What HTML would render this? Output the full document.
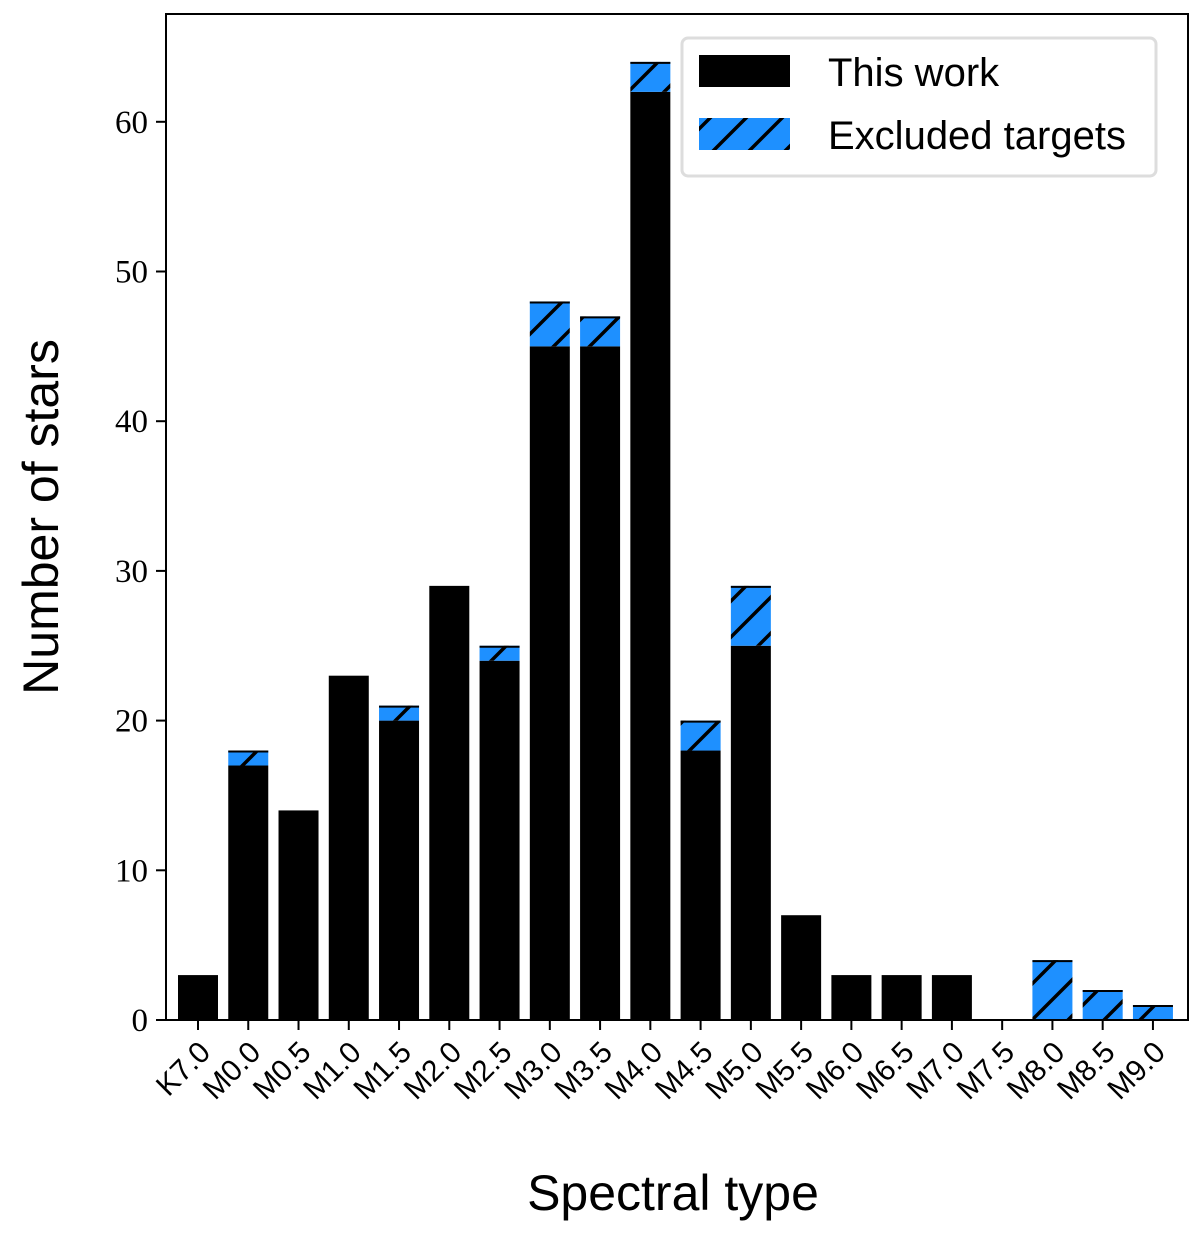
<!DOCTYPE html>
<html><head><meta charset="utf-8"><style>body{margin:0;background:#fff}svg{display:block}</style></head>
<body>
<svg id="chart" width="1200" height="1243" xmlns="http://www.w3.org/2000/svg">
<defs>
<pattern id="hatch" patternUnits="userSpaceOnUse" width="36" height="36">
<rect width="36" height="36" fill="#1e90ff"/>
<path d="M-9,9 L9,-9 M0,36 L36,0 M27,45 L45,27" stroke="#000" stroke-width="3.5"/>
</pattern>
</defs>
<g id="plot"></g>
</svg>
<script>
const categories=["K7.0","M0.0","M0.5","M1.0","M1.5","M2.0","M2.5","M3.0","M3.5","M4.0","M4.5","M5.0","M5.5","M6.0","M6.5","M7.0","M7.5","M8.0","M8.5","M9.0"];
const thisWork=[3,17,14,23,20,29,24,45,45,62,18,25,7,3,3,3,0,0,0,0];
const excluded=[0,1,0,0,1,0,1,3,2,2,2,4,0,0,0,0,0,4,2,1];
const yTicks=[0,10,20,30,40,50,60];
const svg=document.getElementById('chart');
const g=document.getElementById('plot');
const NS='http://www.w3.org/2000/svg';
const L=166,R=1188,T=14,B=1020;
const x0=198,dx=50.26;
function xs(i){return x0+i*dx;}
function ys(v){return B-v*14.97;}
function mk(tag,attrs,parent){const e=document.createElementNS(NS,tag);for(const k in attrs)e.setAttribute(k,attrs[k]);(parent||g).appendChild(e);return e;}
const bw=40;
categories.forEach((c,i)=>{
  if(thisWork[i]>0){
    const r=mk('rect',{x:xs(i)-bw/2,y:ys(thisWork[i]),width:bw,height:ys(0)-ys(thisWork[i]),fill:'#000'});
    
    
  }
  if(excluded[i]>0){
    const top=thisWork[i]+excluded[i];
    const r=mk('rect',{x:xs(i)-bw/2,y:ys(top),width:bw,height:ys(thisWork[i])-ys(top),fill:'url(#hatch)'});
    
    
    const t=mk('line',{x1:xs(i)-bw/2,x2:xs(i)+bw/2,y1:ys(top)+1,y2:ys(top)+1,stroke:'#000','stroke-width':2});
    
    
  }
  const tk=mk('line',{x1:xs(i),x2:xs(i),y1:B,y2:B+10,stroke:'#000','stroke-width':2});
  
  
  const lx=xs(i)+14,ly=B+34;
  const tl=mk('text',{x:lx,y:ly,'text-anchor':'end','font-family':'Liberation Sans, sans-serif','font-size':30,transform:`rotate(-45 ${lx} ${ly})`});
  tl.textContent=c;
  
  
});
yTicks.forEach(v=>{
  const tk=mk('line',{x1:L-10,x2:L,y1:ys(v),y2:ys(v),stroke:'#000','stroke-width':2});
  
  
  const tl=mk('text',{x:L-18,y:ys(v)+11,'text-anchor':'end','font-family':'Liberation Serif, serif','font-size':33});
  tl.textContent=v;
  
  
});
const frame=mk('rect',{x:L,y:T,width:R-L,height:B-T,fill:'none',stroke:'#000','stroke-width':2});


const xt=mk('text',{x:673,y:1210,'text-anchor':'middle','font-family':'Liberation Sans, sans-serif','font-size':50});
xt.textContent='Spectral type';


const yt=mk('text',{x:58,y:517,'text-anchor':'middle','font-family':'Liberation Sans, sans-serif','font-size':50,transform:'rotate(-90 58 517)'});
yt.textContent='Number of stars';


const lg=mk('g',{});


mk('rect',{x:682,y:38,width:474,height:138,rx:6,fill:'#fff',stroke:'#ddd','stroke-width':3},lg);
mk('rect',{x:699,y:55,width:91,height:32,fill:'#000'},lg);
mk('rect',{x:699,y:118,width:91,height:32,fill:'url(#hatch)'},lg);
const l1=mk('text',{x:828,y:86,'font-family':'Liberation Sans, sans-serif','font-size':40},lg);
l1.textContent='This work';


const l2=mk('text',{x:828,y:149,'font-family':'Liberation Sans, sans-serif','font-size':40},lg);
l2.textContent='Excluded targets';


</script>
</body></html>
